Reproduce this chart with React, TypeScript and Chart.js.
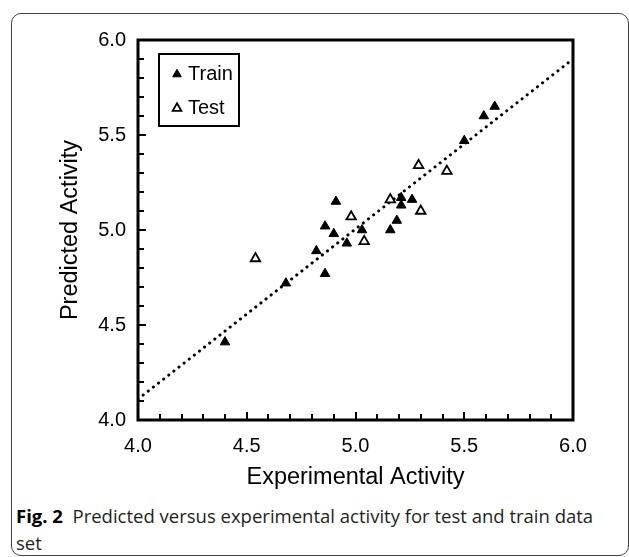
import React, { useEffect, useRef } from 'react';
import { Chart, registerables } from 'chart.js';

Chart.register(...registerables);

// ---- data ----
const trainX = [4.40, 4.68, 4.86, 4.82, 4.86, 4.90, 4.91, 4.96, 5.03, 5.16, 5.19, 5.21, 5.21, 5.26, 5.50, 5.59, 5.64];
const trainY = [4.41, 4.72, 4.77, 4.89, 5.02, 4.98, 5.15, 4.93, 5.00, 5.00, 5.05, 5.17, 5.13, 5.16, 5.47, 5.60, 5.65];
const testX = [4.54, 4.98, 5.04, 5.16, 5.29, 5.30, 5.42];
const testY = [4.85, 5.07, 4.94, 5.16, 5.34, 5.10, 5.31];
const fitX = [4.0, 6.0];
const fitY = [4.11, 5.9];
const axisMin = 4.0;
const axisMax = 6.0;
const majorStep = 0.5;
const minorStep = 0.1;
const xTitle = 'Experimental Activity';
const yTitle = 'Predicted Activity';
const seriesLabels = ['Train', 'Test'];

const FONT = '"Liberation Sans", Arial, Helvetica, sans-serif';

function drawTriangle(ctx: CanvasRenderingContext2D, x: number, y: number, r: number, filled: boolean) {
  ctx.beginPath();
  let rad = 0;
  const third = (2 * Math.PI) / 3;
  ctx.moveTo(x + Math.sin(rad) * r, y - Math.cos(rad) * r);
  rad += third;
  ctx.lineTo(x + Math.sin(rad) * r, y - Math.cos(rad) * r);
  rad += third;
  ctx.lineTo(x + Math.sin(rad) * r, y - Math.cos(rad) * r);
  ctx.closePath();
  ctx.fillStyle = filled ? '#000' : '#fff';
  ctx.fill();
  ctx.lineWidth = filled ? 1 : 1.8;
  ctx.strokeStyle = '#000';
  ctx.stroke();
}

const frameAndTicks = {
  id: 'frameAndTicks',
  beforeDatasetsDraw(chart: any) {
    const { ctx, chartArea } = chart;
    const xs = chart.scales.x;
    const ys = chart.scales.y;
    ctx.save();
    ctx.strokeStyle = '#000';
    ctx.lineWidth = 2;
    const n = Math.round((axisMax - axisMin) / minorStep);
    for (let i = 1; i < n; i++) {
      const v = axisMin + i * minorStep;
      const major = i % Math.round(majorStep / minorStep) === 0;
      const len = major ? 8 : 6;
      const px = Math.round(xs.getPixelForValue(v));
      ctx.beginPath();
      ctx.moveTo(px, chartArea.bottom);
      ctx.lineTo(px, chartArea.bottom - len);
      ctx.stroke();
      const py = Math.round(ys.getPixelForValue(v));
      ctx.beginPath();
      ctx.moveTo(chartArea.left, py);
      ctx.lineTo(chartArea.left + len, py);
      ctx.stroke();
    }
    ctx.lineWidth = 3;
    ctx.strokeRect(chartArea.left, chartArea.top, chartArea.right - chartArea.left, chartArea.bottom - chartArea.top);
    ctx.restore();
  },
};

const legendBox = {
  id: 'legendBox',
  afterDatasetsDraw(chart: any) {
    const { ctx, chartArea } = chart;
    const x0 = chartArea.left + 21;
    const y0 = chartArea.top + 14;
    const w = 80;
    const h = 72;
    ctx.save();
    ctx.fillStyle = '#fff';
    ctx.fillRect(x0, y0, w, h);
    ctx.lineWidth = 2;
    ctx.strokeStyle = '#000';
    ctx.strokeRect(x0, y0, w, h);
    const sets = chart.data.datasets.filter((d: any) => seriesLabels.includes(d.label));
    sets.forEach((d: any, i: number) => {
      const cy = y0 + 19 + i * 34;
      drawTriangle(ctx, x0 + 18, cy + 1.3, 5, d.backgroundColor === '#000');
      ctx.fillStyle = '#000';
      ctx.font = `20px ${FONT}`;
      ctx.textAlign = 'left';
      ctx.textBaseline = 'middle';
      ctx.fillText(d.label, x0 + 29, cy + 1);
    });
    ctx.restore();
  },
};

export default function App() {
  const ref = useRef<HTMLCanvasElement | null>(null);

  useEffect(() => {
    if (!ref.current) return;
    const toPts = (xs: number[], ys: number[]) => xs.map((x, i) => ({ x, y: ys[i] }));
    const chart = new Chart(ref.current, {
      type: 'scatter',
      data: {
        datasets: [
          {
            label: seriesLabels[0],
            data: toPts(trainX, trainY),
            pointStyle: 'triangle',
            pointRadius: 5.5,
            backgroundColor: '#000',
            borderColor: '#000',
            borderWidth: 1,
          },
          {
            label: seriesLabels[1],
            data: toPts(testX, testY),
            pointStyle: 'triangle',
            pointRadius: 5.5,
            backgroundColor: '#fff',
            borderColor: '#000',
            borderWidth: 1.8,
          },
          {
            type: 'line',
            label: 'fit',
            data: toPts(fitX, fitY),
            borderColor: '#000',
            borderWidth: 3,
            borderDash: [0.1, 6.4],
            borderCapStyle: 'round',
            pointRadius: 0,
            fill: false,
          } as any,
        ],
      },
      options: {
        responsive: false,
        animation: false,
        layout: { padding: { left: 0, right: 56, top: 40, bottom: 0 } },
        plugins: { legend: { display: false }, tooltip: { enabled: false } },
        scales: {
          x: {
            type: 'linear',
            min: axisMin,
            max: axisMax,
            afterFit: (s: any) => { s.height = 80; },
            grid: { display: false, drawTicks: false, tickLength: 0 },
            border: { display: false },
            ticks: {
              stepSize: majorStep,
              padding: 14,
              color: '#000',
              font: { family: FONT, size: 20 },
              callback: (v: any) => Number(v).toFixed(1),
            },
            title: {
              display: true,
              text: xTitle,
              color: '#000',
              font: { family: FONT, size: 23.5 },
              padding: { top: 0, bottom: 8 },
            },
          },
          y: {
            type: 'linear',
            min: axisMin,
            max: axisMax,
            afterFit: (s: any) => { s.width = 138; },
            grid: { display: false, drawTicks: false, tickLength: 0 },
            border: { display: false },
            ticks: {
              stepSize: majorStep,
              padding: 12,
              color: '#000',
              font: { family: FONT, size: 20 },
              callback: (v: any) => Number(v).toFixed(1),
            },
            title: {
              display: true,
              text: yTitle,
              color: '#000',
              font: { family: FONT, size: 23.5 },
              padding: { top: 56, bottom: 0 },
            },
          },
        },
      },
      plugins: [frameAndTicks, legendBox],
    });
    return () => chart.destroy();
  }, []);

  return (
    <div style={{ position: 'fixed', left: 0, top: 0, width: 629, height: 557, background: '#fff', overflow: 'hidden' }}>
      <div
        style={{
          position: 'absolute',
          left: 11,
          top: 13,
          width: 618,
          height: 543,
          boxSizing: 'border-box',
          border: '1px solid #444',
          borderRadius: 10,
        }}
      />
      <canvas ref={ref} width={629} height={500} style={{ position: 'absolute', left: 0, top: 0, width: 629, height: 500 }} />
      <div
        style={{
          position: 'absolute',
          left: 16,
          top: 502,
          font: '18.5px "Open Sans", sans-serif',
          lineHeight: '27px',
          color: '#231f20',
        }}
      >
        <div style={{ whiteSpace: 'nowrap' }}>
          <b style={{ color: '#000' }}>Fig. 2</b>&nbsp; Predicted versus experimental activity for test and train data
        </div>
        <div>set</div>
      </div>
    </div>
  );
}
